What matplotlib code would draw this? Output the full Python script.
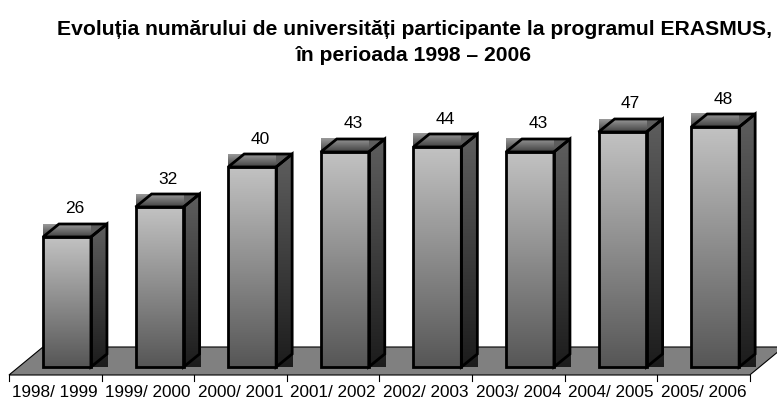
import numpy as np
import matplotlib
matplotlib.use("Agg")
import matplotlib.pyplot as plt
from matplotlib.colors import LinearSegmentedColormap
from matplotlib.patches import Polygon

plt.rcParams['font.family'] = ['Liberation Sans', 'DejaVu Sans']

years = ['1998/ 1999', '1999/ 2000', '2000/ 2001', '2001/ 2002',
         '2002/ 2003', '2003/ 2004', '2004/ 2005', '2005/ 2006']
values = [26, 32, 40, 43, 44, 43, 47, 48]

title1 = 'Evoluția numărului de universități participante la programul ERASMUS,'
title2 = 'în perioada 1998 – 2006'

# 3d look (in data units)
bar_w = 0.518
bar_off = -0.133
ddx, ddv = 0.173, 2.6     # bar depth
fdx, fdv = 0.367, 5.6     # floor depth
floor_v = -1.6

front_cm = LinearSegmentedColormap.from_list('front', ['#c2c2c2', '#565656'])
side_cm = LinearSegmentedColormap.from_list('side', ['#5e5e5e', '#1c1c1c'])
top_cm = LinearSegmentedColormap.from_list('top', ['#9a9a9a', '#404040'])
grad = np.linspace(0, 1, 256).reshape(-1, 1)

fig = plt.figure(figsize=(7.77, 4.02), dpi=100)
ax = fig.add_axes([0, 0, 1, 1])
ax.set_xlim(-0.597, 7.794)
ax.set_ylim(-6.8, 73.6)
ax.axis('off')

n = len(values)

# floor
floor = Polygon([(-0.5, floor_v), (n - 0.5, floor_v),
                 (n - 0.5 + fdx, floor_v + fdv), (-0.5 + fdx, floor_v + fdv)],
                closed=True, facecolor='#808080', edgecolor='black', lw=0.8, zorder=1)
ax.add_patch(floor)

# ticks under the floor
for k in range(n + 1):
    ax.plot([k - 0.5, k - 0.5], [floor_v, floor_v - 1.1], color='black', lw=0.8, zorder=1)

for i, v in enumerate(values):
    fl = i + bar_off
    fr = fl + bar_w
    z = 2 + i * 0.01
    # top face (box)
    ax.imshow(grad, cmap=top_cm, aspect='auto', extent=[fl, fr + ddx, v, v + ddv],
              origin='upper', zorder=z, interpolation='bilinear')
    # side face (box)
    ax.imshow(grad, cmap=side_cm, aspect='auto', extent=[fr, fr + ddx, 0, v + ddv],
              origin='upper', zorder=z + 0.001, interpolation='bilinear')
    # front face
    ax.imshow(grad, cmap=front_cm, aspect='auto', extent=[fl, fr, 0, v],
              origin='upper', zorder=z + 0.002, interpolation='bilinear')
    # outlines
    lw = 2.0
    ax.add_patch(Polygon([(fl, 0), (fr, 0), (fr, v), (fl, v)], closed=True,
                         fill=False, edgecolor='black', lw=lw, zorder=z + 0.003))
    ax.add_patch(Polygon([(fl, v), (fr, v), (fr + ddx, v + ddv), (fl + ddx, v + ddv)],
                         closed=True, fill=False, edgecolor='black', lw=lw,
                         joinstyle='miter', zorder=z + 0.003))
    ax.add_patch(Polygon([(fr, 0), (fr + ddx, ddv), (fr + ddx, v + ddv), (fr, v)],
                         closed=True, fill=False, edgecolor='black', lw=lw,
                         joinstyle='miter', zorder=z + 0.003))
    ax.text(fl + (bar_w + ddx) / 2, v + 5.8, str(v), ha='center', va='center',
            fontsize=12.5, zorder=5)
    ax.text(i, -5.0, years[i], ha='center', va='center', fontsize=12.3, zorder=5)

fig.text(0.533, 1 - 35 / 402, title1, ha='center', va='baseline', fontsize=15.2,
         fontweight='bold')
fig.text(0.533, 1 - 61 / 402, title2, ha='center', va='baseline', fontsize=15.2,
         fontweight='bold')

fig.savefig('out.png', dpi=100)
